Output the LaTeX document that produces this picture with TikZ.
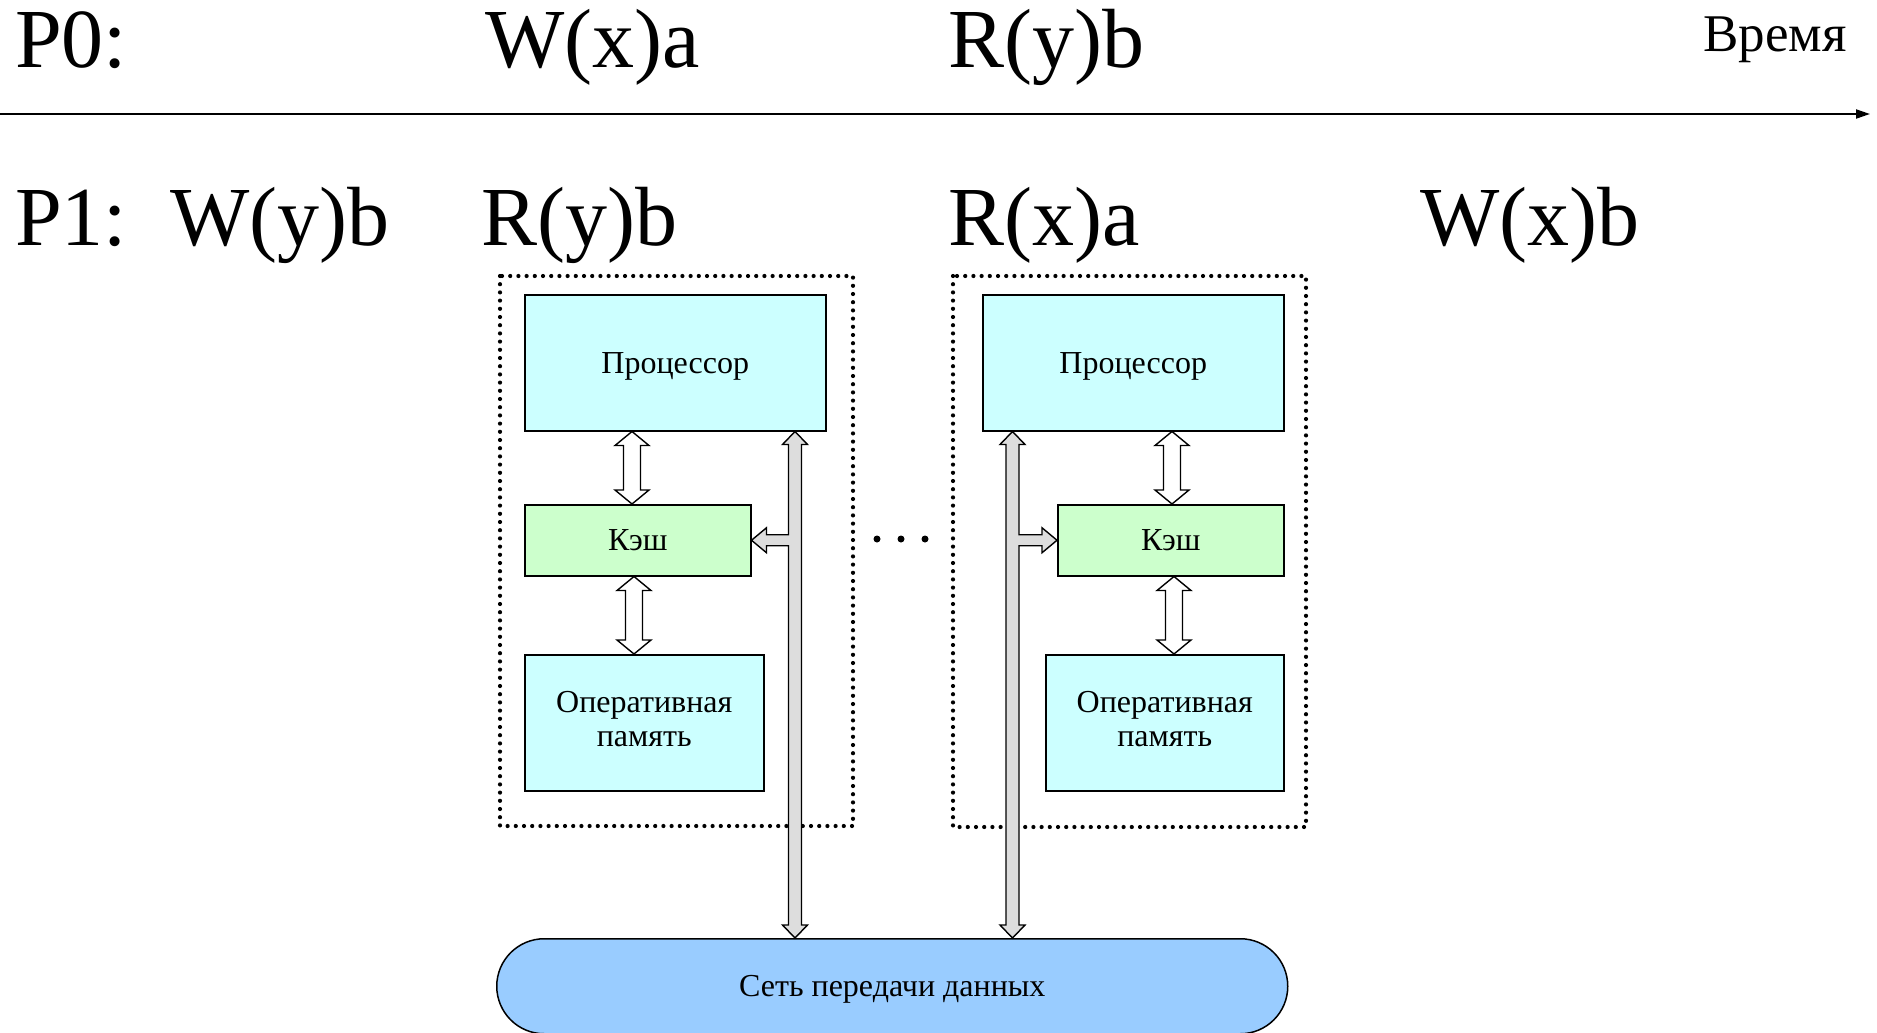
\documentclass[tikz,border=0pt]{standalone}
\usepackage{fontspec}
\setmainfont{Liberation Serif}
\usetikzlibrary{arrows.meta,calc}

\definecolor{procfill}{HTML}{CCFFFF}
\definecolor{cachefill}{HTML}{CCFFCC}
\definecolor{netfill}{HTML}{99CCFF}
\definecolor{busgray}{HTML}{DDDDDD}

\tikzset{
  optext/.style={font=\fontsize{84}{100}\selectfont, inner sep=0pt, anchor=base west},
  timetext/.style={font=\fontsize{53}{60}\selectfont, inner sep=0pt, anchor=base east},
  block/.style={draw=black, line width=1.5pt, inner sep=0pt, anchor=north west,
    font=\fontsize{32}{34}\selectfont, align=center, text depth=0pt},
  procbox/.style={block, fill=procfill, minimum width=301pt, minimum height=136pt},
  cachebox/.style={block, fill=cachefill, minimum width=226pt, minimum height=71pt},
  membox/.style={block, fill=procfill, minimum width=239pt, minimum height=136pt, text depth=8pt},
  netbox/.style={draw=black, line width=1.5pt, fill=netfill, rounded corners=47.5pt,
    minimum width=791pt, minimum height=95pt, inner sep=0pt, anchor=north west,
    font=\fontsize{32}{36}\selectfont, text depth=0pt},
  nodebound/.style={draw=black, line width=4.2pt, dash pattern=on 0pt off 8.2pt, line cap=round},
  hollowarrow/.style={draw=black, line width=1.4pt, fill=white, line join=miter},
  busarrow/.style={draw=black, line width=1.4pt, fill=busgray, line join=miter},
  timeaxis/.style={draw=black, line width=2pt, -{Triangle[length=14pt,width=9pt]}},
}

% vertical two-way block arrow: x, upper node anchor, lower node anchor
\newcommand\twowayarrow[3]{%
  \path[hollowarrow] let \p1=(#2), \p2=(#3) in
    ({#1pt},{\y1}) -- ({#1pt+17pt},{\y1-14pt}) -- ({#1pt+8.5pt},{\y1-14pt})
    -- ({#1pt+8.5pt},{\y2+14pt}) -- ({#1pt+17pt},{\y2+14pt}) -- ({#1pt},{\y2})
    -- ({#1pt-17pt},{\y2+14pt}) -- ({#1pt-8.5pt},{\y2+14pt})
    -- ({#1pt-8.5pt},{\y1-14pt}) -- ({#1pt-17pt},{\y1-14pt}) -- cycle;}

% bus link: x, upper anchor, lower anchor, branch target anchor, side of branch (-1 left, 1 right)
\newcommand\buslink[5]{%
  \path[busarrow] let \p1=(#2), \p2=(#3), \p3=(#4) in
    ({#1pt},{\y1}) -- ({#1pt-(#5)*12.5pt},{\y1-13pt}) -- ({#1pt-(#5)*6.5pt},{\y1-13pt})
    -- ({#1pt-(#5)*6.5pt},{\y2+13pt}) -- ({#1pt-(#5)*12.5pt},{\y2+13pt}) -- ({#1pt},{\y2})
    -- ({#1pt+(#5)*12.5pt},{\y2+13pt}) -- ({#1pt+(#5)*6.5pt},{\y2+13pt})
    -- ({#1pt+(#5)*6.5pt},{\y3-5.5pt}) -- ({\x3-(#5)*15pt},{\y3-5.5pt})
    -- ({\x3-(#5)*15pt},{\y3-12.5pt}) -- ({\x3},{\y3}) -- ({\x3-(#5)*15pt},{\y3+12.5pt})
    -- ({\x3-(#5)*15pt},{\y3+5.5pt}) -- ({#1pt+(#5)*6.5pt},{\y3+5.5pt})
    -- ({#1pt+(#5)*6.5pt},{\y1-13pt}) -- ({#1pt+(#5)*12.5pt},{\y1-13pt}) -- cycle;}

\begin{document}
\begin{tikzpicture}[x=1pt,y=1pt]
  \useasboundingbox[fill=white] (0,0) rectangle (1877,-1033);

  % operation sequences of the two processes
  \node[optext] (p0)  at (15,-68)   {P0:};
  \node[optext] (w0)  at (485,-68)  {W(x)a};
  \node[optext] (r0)  at (948,-68)  {R(y)b};
  \node[timetext] (tm) at (1847,-52) {Время};

  \coordinate (axisL) at (0,-114);
  \coordinate (axisR) at (1870,-114);
  \draw[timeaxis] (axisL) -- (axisR);

  \node[optext] (p1)  at (15,-245)   {P1:};
  \node[optext] (w1)  at (170,-245)  {W(y)b};
  \node[optext] (r1)  at (481,-245)  {R(y)b};
  \node[optext] (r2)  at (948,-245)  {R(x)a};
  \node[optext] (w2)  at (1420,-245) {W(x)b};

  % node boundaries
  \draw[nodebound] (500,-276) rectangle (853,-826);
  \draw[nodebound] (953,-276) rectangle (1306,-827);

  % left node
  \node[procbox]  (proc1)  at (524,-294) {Процессор};
  \node[cachebox] (cache1) at (524,-504) {Кэш};
  \node[membox]   (mem1)   at (524,-654) {Оперативная\\память};

  % right node
  \node[procbox]  (proc2)  at (982,-294)  {Процессор};
  \node[cachebox] (cache2) at (1057,-504) {Кэш};
  \node[membox, minimum width=238pt] (mem2) at (1045,-654) {Оперативная\\память};

  % interconnect
  \node[netbox] (net) at (496,-938) {Сеть передачи данных};

  % links inside each node
  \twowayarrow{632}{proc1.south}{cache1.north}
  \twowayarrow{634}{cache1.south}{mem1.north}
  \twowayarrow{1172}{proc2.south}{cache2.north}
  \twowayarrow{1174}{cache2.south}{mem2.north}

  % links to the interconnect
  \buslink{795}{proc1.south}{net.north}{cache1.east}{-1}
  \buslink{1012.5}{proc2.south}{net.north}{cache2.west}{1}

  % more nodes in between
  \foreach \dx in {877,901,925}
    \fill (\dx,-539) circle (3.5pt);
\end{tikzpicture}
\end{document}
